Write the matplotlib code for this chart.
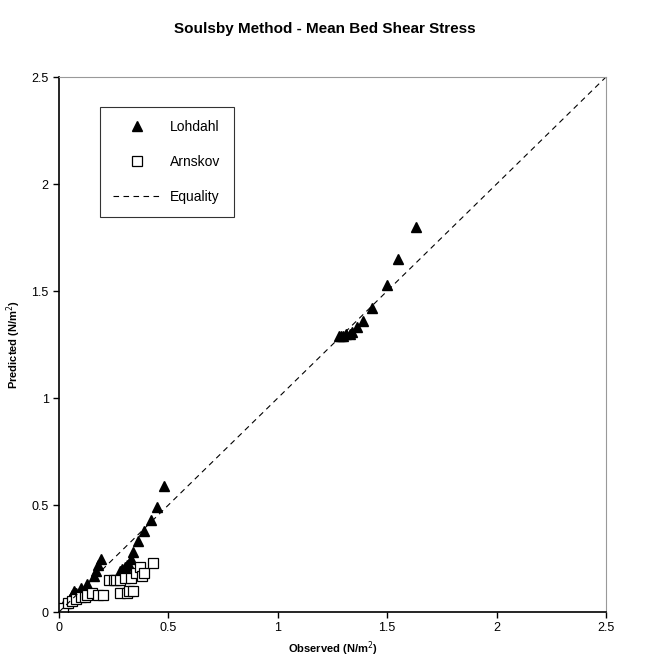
import matplotlib

matplotlib.use("Agg")
import matplotlib.pyplot as plt

plt.rcParams["font.family"] = ["Liberation Sans", "DejaVu Sans"]

# Lohdahl: observed vs predicted (N/m^2)
loh_obs = [0.0, 0.005, 0.01, 0.015, 0.02, 0.03, 0.04, 0.05, 0.06, 0.07, 0.08,
           0.10, 0.13, 0.16, 0.17, 0.18, 0.19,
           0.28, 0.29, 0.30, 0.31, 0.32, 0.33, 0.34, 0.36, 0.39, 0.42, 0.45, 0.48,
           1.28, 1.29, 1.30, 1.31, 1.33, 1.34, 1.36, 1.39, 1.43, 1.50, 1.55, 1.63]
loh_pred = [0.0, 0.01, 0.02, 0.02, 0.03, 0.04, 0.05, 0.06, 0.08, 0.10, 0.09,
            0.11, 0.13, 0.17, 0.19, 0.22, 0.25,
            0.19, 0.20, 0.21, 0.22, 0.22, 0.25, 0.28, 0.33, 0.38, 0.43, 0.49, 0.59,
            1.29, 1.29, 1.29, 1.30, 1.30, 1.31, 1.33, 1.36, 1.42, 1.53, 1.65, 1.80]

# Arnskov
arn_obs = [0.02, 0.04, 0.06, 0.08, 0.10, 0.12, 0.13, 0.15, 0.18, 0.20,
           0.23, 0.25, 0.26, 0.28, 0.30, 0.33,
           0.28, 0.31, 0.32, 0.34, 0.35, 0.37, 0.38, 0.39, 0.43]
arn_pred = [0.02, 0.04, 0.05, 0.06, 0.07, 0.07, 0.08, 0.09, 0.08, 0.08,
            0.15, 0.15, 0.15, 0.15, 0.16, 0.16,
            0.09, 0.09, 0.10, 0.10, 0.18, 0.21, 0.17, 0.18, 0.23]

ticks = [0, 0.5, 1, 1.5, 2, 2.5]
tick_labels = ["0", "0.5", "1", "1.5", "2", "2.5"]

fig = plt.figure(figsize=(6.49, 6.6), dpi=100)
ax = fig.add_axes([0.0909, 0.0727, 0.8428, 0.8106])

ax.plot(loh_obs, loh_pred, "^", color="black", markersize=7, label="Lohdahl",
        linestyle="none")
ax.plot(arn_obs, arn_pred, "s", markerfacecolor="white", markeredgecolor="black",
        markersize=7, markeredgewidth=0.9, label="Arnskov", linestyle="none")
ax.plot([0, 2.5], [0, 2.5], "--", color="black", linewidth=0.8,
        dashes=(5, 4), label="Equality")

ax.set_xlim(0, 2.5)
ax.set_ylim(0, 2.5)
ax.set_xticks(ticks)
ax.set_xticklabels(tick_labels)
ax.set_yticks(ticks)
ax.set_yticklabels(tick_labels)
ax.tick_params(direction="out", length=4, width=1, labelsize=9, colors="black")

for s in ["top", "right"]:
    ax.spines[s].set_color("#999999")
for s in ["left", "bottom"]:
    ax.spines[s].set_color("black")
    ax.spines[s].set_linewidth(1.2)

ax.set_xlabel("Observed (N/m$^2$)", fontsize=8, fontweight="bold")
ax.xaxis.set_label_coords(0.5, -0.052)
ax.set_ylabel("Predicted (N/m$^2$)", fontsize=8, fontweight="bold")
ax.yaxis.set_label_coords(-0.066, 0.5)
fig.suptitle("Soulsby Method - Mean Bed Shear Stress", fontsize=11,
             fontweight="bold", y=0.967)

leg = ax.legend(loc="upper left", bbox_to_anchor=(0.075, 0.944), fontsize=10,
                frameon=True, fancybox=False, edgecolor="black",
                borderpad=0.95, labelspacing=1.5, handlelength=3.4,
                handletextpad=0.7, borderaxespad=0)
leg.get_frame().set_linewidth(0.8)

fig.savefig("out.png", dpi=100)
